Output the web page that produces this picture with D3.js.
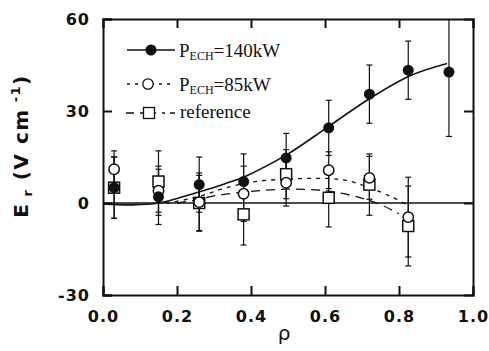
<!DOCTYPE html>
<html><head><meta charset="utf-8">
<script src="https://cdn.jsdelivr.net/npm/d3@7/dist/d3.min.js"></script>
<style>body{margin:0;background:#fff}svg{display:block}</style>
</head><body>
<svg id="c" width="489" height="351"></svg>
<script>
// ---- data ----
const rho140 = [0.03, 0.15, 0.26, 0.38, 0.495, 0.61, 0.72, 0.825, 0.935];
const er140  = [5, 2, 6, 7, 14.7, 24.5, 35.5, 43.3, 42.7];
const err140 = [10, 9, 9, 9, 8, 9, 9.5, 9.5, 21];

const rho85  = [0.03, 0.15, 0.26, 0.38, 0.495, 0.61, 0.72, 0.825];
const er85   = [11, 4, 0.3, 3, 6.6, 10.7, 8.2, -4.6];
const err85  = [6, 8, 9.5, 9, 7.6, 6, 7, 13];

const rhoRef = [0.03, 0.15, 0.26, 0.38, 0.495, 0.61, 0.72, 0.825];
const erRef  = [5, 7, 0, -3.7, 9.4, 1.7, 6, -7.5];
const errRef = [10, 10, 9, 10, 8, 9.5, 10, 13];

// fitted curves
const fit140Rho = [0, 0.08, 0.15, 0.2, 0.27, 0.33, 0.39, 0.5, 0.61, 0.72, 0.83, 0.93];
const fit140V   = [-0.3, -0.6, 0, 1.5, 4, 6.3, 9, 16, 25, 34, 41.5, 45.5];
const fit85Rho  = [0.17, 0.22, 0.27, 0.32, 0.4, 0.5, 0.6, 0.66, 0.72, 0.78, 0.82];
const fit85V    = [0, 1, 2.5, 4.5, 6.8, 7.8, 8, 7.3, 5, 2, -0.5];
const fitRefRho = [0.2, 0.25, 0.3, 0.4, 0.5, 0.6, 0.67, 0.74, 0.8];
const fitRefV   = [0, 1, 2.3, 3.8, 4.5, 4, 2.5, 0, -3.5];

const xTicks = [0, 0.2, 0.4, 0.6, 0.8, 1.0];
const yTicks = [-30, 0, 30, 60];
const legendLabels = ["=140kW", "=85kW", "reference"];

// ---- layout ----
const svg = d3.select("#c");
const L = 103, R = 473, T = 19, B = 295;
const x = d3.scaleLinear().domain([0, 1]).range([L, R]);
const y = d3.scaleLinear().domain([-30, 60]).range([B, T]);
const ink = "#111";

svg.append("defs").append("clipPath").attr("id", "pc")
  .append("rect").attr("x", L).attr("y", T).attr("width", R - L).attr("height", B - T);

// axes
const gx = svg.append("g").attr("transform", `translate(0,${B})`)
  .call(d3.axisBottom(x).tickValues(xTicks).tickFormat(d3.format(".1f")).tickSize(-9).tickPadding(16));
const gxt = svg.append("g").attr("transform", `translate(0,${T})`)
  .call(d3.axisTop(x).tickValues(xTicks).tickFormat("").tickSize(-9));
const gy = svg.append("g").attr("transform", `translate(${L},0)`)
  .call(d3.axisLeft(y).tickValues(yTicks).tickFormat(d => d < 0 ? "-" + Math.abs(d) : d).tickSize(-9).tickPadding(13));
const gyr = svg.append("g").attr("transform", `translate(${R},0)`)
  .call(d3.axisRight(y).tickValues([0, 30]).tickFormat("").tickSize(-9));

[gx, gxt, gy, gyr].forEach(g => {
  g.select(".domain").attr("stroke", ink).attr("stroke-width", 2);
  g.selectAll(".tick line").attr("stroke", ink).attr("stroke-width", 2);
  g.selectAll("text").attr("fill", ink)
    .style("font-family", "'DejaVu Sans', sans-serif").style("font-weight", "bold")
    .style("font-size", "16px").style("letter-spacing", "1px");
});

// zero line
svg.append("line").attr("x1", x(0)).attr("x2", x(1)).attr("y1", y(0)).attr("y2", y(0))
  .attr("stroke", ink).attr("stroke-width", 1.6);

const plot = svg.append("g").attr("clip-path", "url(#pc)");

const line = d3.line().x(d => x(d[0])).y(d => y(d[1])).curve(d3.curveCatmullRom.alpha(0.5));
plot.append("path").attr("d", line(d3.zip(fit140Rho, fit140V)))
  .attr("fill", "none").attr("stroke", ink).attr("stroke-width", 1.6);
plot.append("path").attr("d", line(d3.zip(fit85Rho, fit85V)))
  .attr("fill", "none").attr("stroke", ink).attr("stroke-width", 1.3).attr("stroke-dasharray", "4,5");
plot.append("path").attr("d", line(d3.zip(fitRefRho, fitRefV)))
  .attr("fill", "none").attr("stroke", ink).attr("stroke-width", 1.3).attr("stroke-dasharray", "9,6");

// error bars
function errBars(rs, vs, es) {
  const d = d3.zip(rs, vs, es);
  const g = plot.append("g").attr("stroke", ink).attr("stroke-width", 1.2);
  g.selectAll("line.v").data(d).join("line").attr("class", "v")
    .attr("x1", e => x(e[0])).attr("x2", e => x(e[0]))
    .attr("y1", e => y(e[1] - e[2])).attr("y2", e => y(e[1] + e[2]));
  g.selectAll("line.t").data(d).join("line").attr("class", "t")
    .attr("x1", e => x(e[0]) - 3).attr("x2", e => x(e[0]) + 3)
    .attr("y1", e => y(e[1] + e[2])).attr("y2", e => y(e[1] + e[2]));
  g.selectAll("line.b").data(d).join("line").attr("class", "b")
    .attr("x1", e => x(e[0]) - 3).attr("x2", e => x(e[0]) + 3)
    .attr("y1", e => y(e[1] - e[2])).attr("y2", e => y(e[1] - e[2]));
}
errBars(rhoRef, erRef, errRef);
errBars(rho85, er85, err85);
errBars(rho140, er140, err140);

// markers
plot.append("g").selectAll("rect").data(d3.zip(rhoRef, erRef)).join("rect")
  .attr("x", d => x(d[0]) - 5.5).attr("y", d => y(d[1]) - 5.5).attr("width", 11).attr("height", 11)
  .attr("fill", "#fff").attr("stroke", ink).attr("stroke-width", 1.5);
plot.append("g").selectAll("circle").data(d3.zip(rho85, er85)).join("circle")
  .attr("cx", d => x(d[0])).attr("cy", d => y(d[1])).attr("r", 5.2)
  .attr("fill", "#fff").attr("stroke", ink).attr("stroke-width", 1.5);
plot.append("g").selectAll("circle").data(d3.zip(rho140, er140)).join("circle")
  .attr("cx", d => x(d[0])).attr("cy", d => y(d[1])).attr("r", 5.5)
  .attr("fill", ink);

// legend
const lg = svg.append("g");
const rows = [50, 84, 113];
lg.append("line").attr("x1", 127).attr("x2", 175).attr("y1", rows[0]).attr("y2", rows[0]).attr("stroke", ink).attr("stroke-width", 1.6);
lg.append("circle").attr("cx", 151).attr("cy", rows[0]).attr("r", 5.5).attr("fill", ink);
lg.append("line").attr("x1", 127).attr("x2", 175).attr("y1", rows[1]).attr("y2", rows[1]).attr("stroke", ink).attr("stroke-width", 1.3).attr("stroke-dasharray", "3,5");
lg.append("circle").attr("cx", 148).attr("cy", rows[1]).attr("r", 5.2).attr("fill", "#fff").attr("stroke", ink).attr("stroke-width", 1.3);
lg.append("line").attr("x1", 126).attr("x2", 175).attr("y1", rows[2]).attr("y2", rows[2]).attr("stroke", ink).attr("stroke-width", 1.3).attr("stroke-dasharray", "8,6,3,5");
lg.append("rect").attr("x", 143.5).attr("y", rows[2] - 5.5).attr("width", 11).attr("height", 11).attr("fill", "#fff").attr("stroke", ink).attr("stroke-width", 1.3);

const serif = "'Liberation Serif', 'Times New Roman', serif";
[0, 1].forEach(i => {
  const t = lg.append("text").attr("x", 179).attr("y", rows[i] + 7)
    .style("font-family", serif).style("font-size", "19px").attr("fill", ink);
  t.append("tspan").text("P");
  t.append("tspan").attr("dy", 3).style("font-size", "12px").text("ECH");
  t.append("tspan").attr("dy", -3).text(legendLabels[i]);
});
lg.append("text").attr("x", 180).attr("y", rows[2] + 5)
  .style("font-family", serif).style("font-size", "19px").attr("fill", ink).text(legendLabels[2]);

// axis titles
svg.append("text").attr("x", 284).attr("y", 340).attr("text-anchor", "middle")
  .style("font-family", "'DejaVu Sans', sans-serif").style("font-size", "20px").attr("fill", ink).text("ρ");

const yt = svg.append("text").attr("transform", "translate(28,146) rotate(-90)").attr("text-anchor", "middle")
  .style("font-family", "'DejaVu Sans', sans-serif").style("font-weight", "bold").style("font-size", "20px")
  .style("letter-spacing", "1.5px").attr("fill", ink);
yt.append("tspan").text("E");
yt.append("tspan").attr("dy", 4).style("font-size", "13px").text(" r");
yt.append("tspan").attr("dy", -4).text(" (V cm");
yt.append("tspan").attr("dy", -8).style("font-size", "13px").text(" -1");
yt.append("tspan").attr("dy", 8).text(")");
</script>
</body></html>
